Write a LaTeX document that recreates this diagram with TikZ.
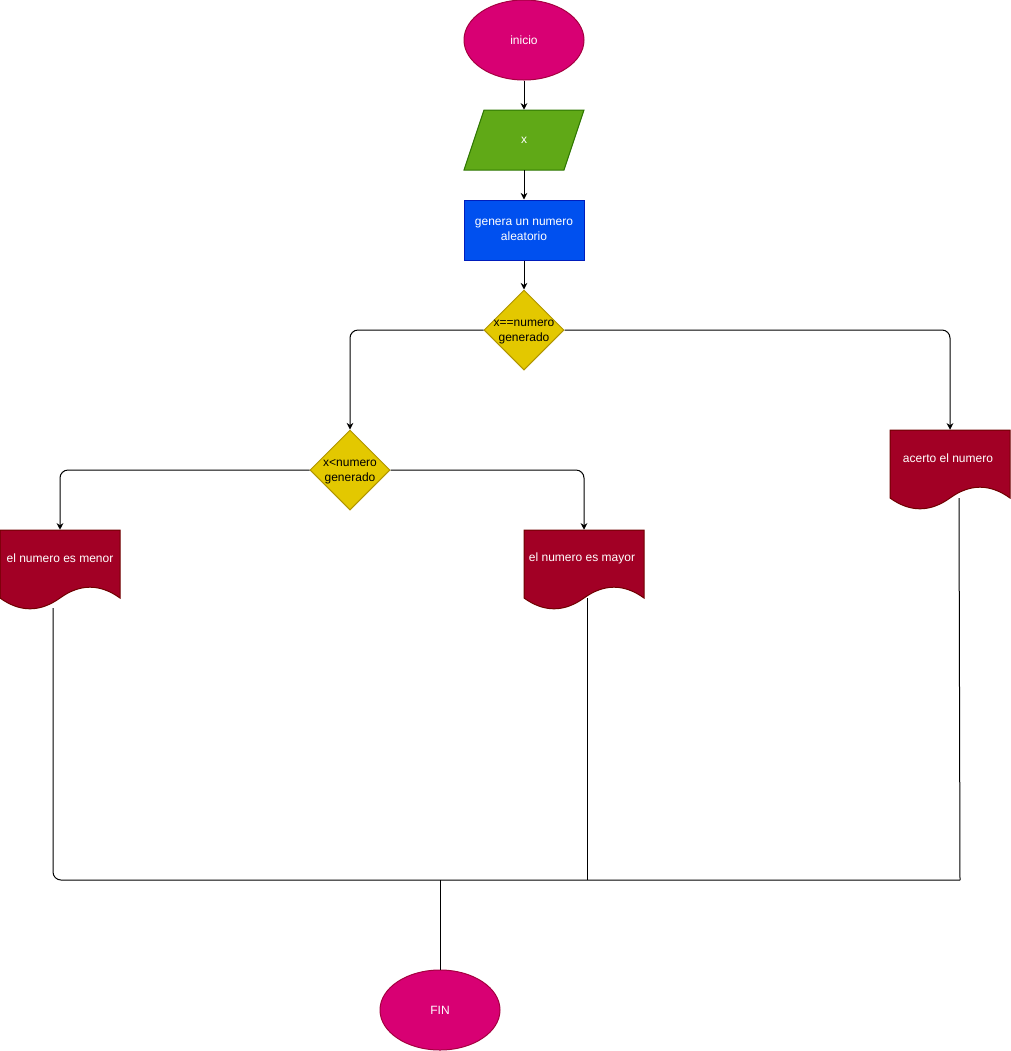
\documentclass[tikz,border=0pt]{standalone}
\usepackage{fontspec}
\setmainfont{Liberation Sans}
\usetikzlibrary{shapes.geometric,arrows.meta}
\definecolor{magf}{HTML}{D80073}\definecolor{magd}{HTML}{A50040}
\definecolor{grnf}{HTML}{60A917}\definecolor{grnd}{HTML}{2D7600}
\definecolor{bluf}{HTML}{0050EF}\definecolor{blud}{HTML}{001DBC}
\definecolor{yelf}{HTML}{E3C800}\definecolor{yeld}{HTML}{B09500}
\definecolor{redf}{HTML}{A20025}\definecolor{redd}{HTML}{6F0000}
\tikzset{
  lw/.style={line width=0.75pt},
  term/.style={ellipse, fill=magf, draw=magd, lw, minimum width=90pt, minimum height=60pt, inner sep=0pt, text=white},
  procbox/.style={rectangle, fill=bluf, draw=blud, lw, minimum width=90pt, minimum height=45pt, inner sep=0pt, text=white, align=center},
  dia/.style={diamond, fill=yelf, draw=yeld, lw, minimum width=60pt, minimum height=60pt, inner sep=0pt},
  holder/.style={rectangle, minimum width=90pt, minimum height=60pt, inner sep=0pt},
  iobox/.style={rectangle, minimum width=90pt, minimum height=45pt, inner sep=0pt},
  docfill/.style={fill=redf, draw=redd, lw},
  arr/.style={lw, -{Stealth[length=5pt,width=5pt]}},
  conn/.style={lw},
}
\begin{document}
\begin{tikzpicture}[x=0.75pt,y=-0.75pt, font=\fontsize{9}{11}\selectfont]
\useasboundingbox (0,0) rectangle (1011,1051);
% terminals
\node[term] (inicio) at (524,40) {inicio};
\node[term] (fin) at (440,1010) {FIN};
% input parallelogram
\path[fill=grnf, draw=grnd, lw] (484,110) -- (584,110) -- (564,170) -- (464,170) -- cycle;
\node[iobox, text=white] (x) at (524,140) {x};
% process
\node[procbox] (gen) at (524,230) {genera un numero\\aleatorio};
% decisions
\node[dia] (d1) at (524,330) {};
\node[align=center, inner sep=0pt] (d1t) at (524,332) {x==numero\\generado};
\node[dia] (d2) at (350,470) {};
\node[align=center, inner sep=0pt] (d2t) at (350,472) {x<numero\\generado};
% documents
\foreach \x/\y in {890/430, 0/530, 524/530}{
  \path[docfill] (\x,\y) -- (\x+120,\y) -- (\x+120,\y+68)
    .. controls (\x+100,\y+53.6) and (\x+80,\y+53.6) .. (\x+60,\y+68)
    .. controls (\x+40,\y+82.4) and (\x+20,\y+82.4) .. (\x,\y+68) -- cycle;
}
\node[holder] (acerto) at (950,470) {};
\node[text=white] (acertot) at (948,458) {acerto el numero};
\node[holder] (menor) at (60,570) {};
\node[text=white] (menort) at (60,558) {el numero es menor};
\node[holder] (mayor) at (584,570) {};
\node[text=white] (mayort) at (582,558) {el numero es mayor};
% connectors
\draw[arr] (inicio) -- (x);
\draw[arr] (x) -- (gen);
\draw[arr] (gen) -- (d1);
\draw[arr, rounded corners=6pt] (d1.west) -| (d2.north);
\draw[arr, rounded corners=6pt] (d1.east) -| (acerto.north);
\draw[arr, rounded corners=6pt] (d2.west) -| (menor.north);
\draw[arr, rounded corners=6pt] (d2.east) -| (mayor.north);
% lower collecting lines
\coordinate (mb) at (53,608);
\coordinate (yb) at (587,598);
\coordinate (ab) at (959,498);
\coordinate (cr) at (960,880);
\coordinate (j) at (440,880);
\draw[conn, rounded corners=6pt] (mb) |- (cr);
\draw[conn] (cr) -- (ab);
\draw[conn] (yb) -- (yb |- cr);
\draw[conn] (j) -- (fin);
\end{tikzpicture}
\end{document}
